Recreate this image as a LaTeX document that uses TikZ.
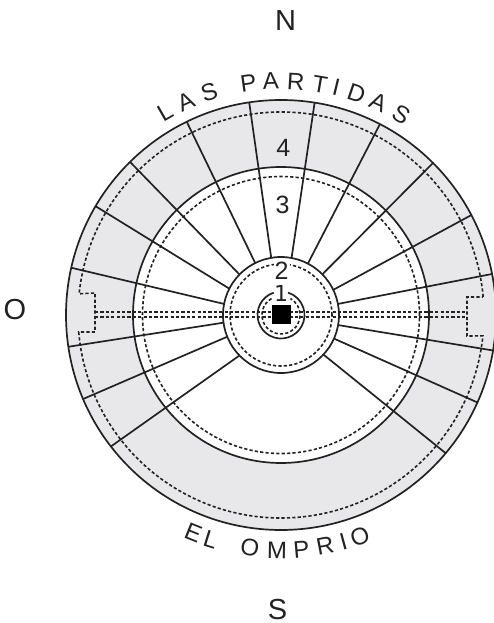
\documentclass[tikz,border=0pt]{standalone}
\usepackage{fontspec}
\setmainfont{Liberation Sans}
\newfontfamily\onefont{DejaVu Sans}
\definecolor{bandgray}{HTML}{E8E8EA}
\definecolor{inkline}{HTML}{222222}
\tikzset{every picture/.style={/utils/exec={\rmfamily}}}

\begin{document}
\begin{tikzpicture}[x=1pt, y=1pt, line width=1.7pt,
    wall/.style={draw=inkline},
    dashring/.style={draw=inkline, line width=1.6pt, dash pattern=on 3.2pt off 2.2pt},
    compass/.style={font=\fontsize{29}{29}\selectfont, text=inkline, inner sep=0pt},
    ringnum/.style={font=\fontsize{25}{25}\selectfont, text=inkline, inner sep=0pt},
    arcletter/.style={font=\fontsize{24}{24}\selectfont, text=inkline, inner sep=0pt}]
        \useasboundingbox (-281,315) rectangle (213,-308);

        % Bands
        \fill[bandgray] (0,0) circle (215);
        \fill[white] (0,0) circle (148);

        % Radial walls, outer angle / inner angle
        \foreach \outer/\inner in {11/11, 27.7/25.7, 45/44.5, 62.6/62.4, 81/79.5, 98.5/99.7,
                116/116.4, 134.6/135.7, 149.6/153, 167.3/169, 188.5/187.6, 203/202,
                217.7/224.3, 320/317, 336/336, 350.5/350}
            \draw[wall] (\outer:215) -- (\inner:58);

        % Solid rings
        \draw[wall] (0,0) circle (215);
        \draw[wall] (0,0) circle (148);
        \draw[wall] (0,0) circle (58);
        \draw[wall] (108:23.5) arc (108:432.5:23.5);

        % Dashed rings
        \draw[dashring] (0,0) circle (138.5);
        \draw[dashring] (0,0) circle (51);
        \draw[dashring] (120:19) arc (120:420:19);

        % Outer dashed ring with its two recesses
        \coordinate (leftB) at (184.8:203);
        \coordinate (rightB) at (5.1:203);
        \draw[dashring] (rightB) arc (5.1:174:203) -- (-186,22) -- (-186,-17)
            -- (leftB) arc (184.8:354.1:203) -- (186,-21) -- (186,18) -- (rightB);

        % Double dashed axis
        \draw[dashring] (-186,3) -- (186,3);
        \draw[dashring] (-186,-2) -- (186,-2);

        % Centre square
        \node[fill=black, minimum size=19pt, inner sep=0pt] (core) at (0,0) {};

        % Numbers
        \node[ringnum, fill=white, inner xsep=1pt] (two) at (0.7,44.5) {2};
        \node[ringnum, font=\onefont\fontsize{22}{22}\selectfont] (one) at (0,22) {1};
        \node[ringnum] (three) at (1.7,110) {3};
        \node[ringnum] (four) at (2.3,166.7) {4};

        % Compass
        \node[compass] (north) at (4.5,294.5) {N};
        \node[compass] (south) at (-3.5,-294.5) {S};
        \node[compass] (west) at (-266,5) {O};

        % Curved names
        \foreach \letter/\ang [count=\i] in {L/119.7, A/114, S/107.9, P/98, A/92.5, R/86.4,
                T/80.4, I/76.3, D/71.2, A/65.4, S/59.1}
            \node[arcletter, rotate=\ang-90] (north\i) at (\ang:234) {\letter};
        \foreach \letter/\ang [count=\i] in {E/-21.9, L/-17.4, O/-7.6, M/-1, P/5, R/10.8,
                I/15.4, O/19.6}
            \node[arcletter, rotate=\ang] (south\i) at (270+\ang:235) {\letter};
    \end{tikzpicture}
\end{document}
